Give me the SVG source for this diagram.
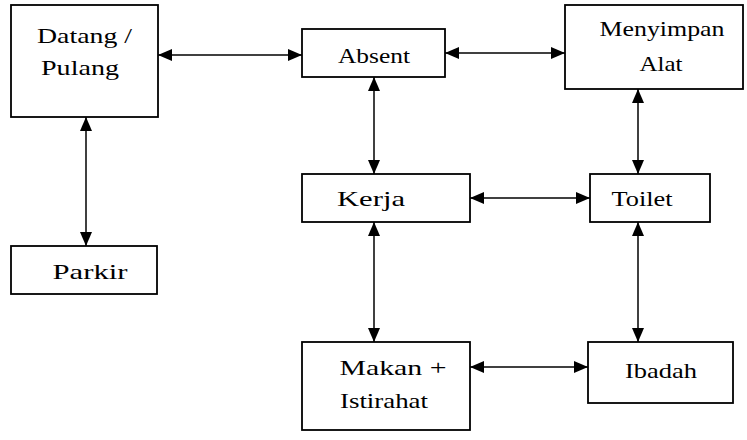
<svg xmlns="http://www.w3.org/2000/svg" width="747" height="440" viewBox="0 0 747 440">
<defs>
<style>
.box{fill:#fff;stroke:#000;stroke-width:1.8}
.t{font-family:"Liberation Serif","Times New Roman",serif;font-size:22px;fill:#000;text-anchor:middle}
.c{stroke:#000;stroke-width:1.5;fill:none;marker-start:url(#a);marker-end:url(#a)}
</style>
<marker id="a" viewBox="0 0 14 12" refX="14" refY="6" markerWidth="14" markerHeight="12" markerUnits="userSpaceOnUse" orient="auto-start-reverse">
<path d="M0,0 L14,6 L0,12 Z" fill="#000"/>
</marker>
</defs>
<rect width="747" height="440" fill="#fff"/>
<g id="connectors">
<line class="c" x1="158" y1="55" x2="302" y2="55"/>
<line class="c" x1="445" y1="53" x2="565" y2="53"/>
<line class="c" x1="86" y1="117" x2="86" y2="246"/>
<line class="c" x1="374" y1="77" x2="374" y2="174"/>
<line class="c" x1="638" y1="89" x2="638" y2="174"/>
<line class="c" x1="470" y1="198" x2="590" y2="198"/>
<line class="c" x1="374" y1="222" x2="374" y2="342"/>
<line class="c" x1="638" y1="222" x2="638" y2="342"/>
<line class="c" x1="470" y1="367" x2="588" y2="367"/>
</g>
<g id="datang">
<rect class="box" x="11" y="5" width="147" height="112"/>
<text class="t" x="84.5" y="43" textLength="95" lengthAdjust="spacingAndGlyphs">Datang /</text>
<text class="t" x="80" y="75" textLength="78" lengthAdjust="spacingAndGlyphs">Pulang</text>
</g>
<g id="absent">
<rect class="box" x="302" y="29" width="143" height="48"/>
<text class="t" x="374" y="63" textLength="72" lengthAdjust="spacingAndGlyphs">Absent</text>
</g>
<g id="menyimpan">
<rect class="box" x="565" y="5" width="178" height="84"/>
<text class="t" x="662" y="36" textLength="125" lengthAdjust="spacingAndGlyphs">Menyimpan</text>
<text class="t" x="661" y="71" textLength="43" lengthAdjust="spacingAndGlyphs">Alat</text>
</g>
<g id="kerja">
<rect class="box" x="302" y="174" width="168" height="48"/>
<text class="t" x="371" y="206" textLength="68" lengthAdjust="spacingAndGlyphs">Kerja</text>
</g>
<g id="toilet">
<rect class="box" x="590" y="174" width="120" height="48"/>
<text class="t" x="642" y="206" textLength="61" lengthAdjust="spacingAndGlyphs">Toilet</text>
</g>
<g id="parkir">
<rect class="box" x="11" y="246" width="146" height="48"/>
<text class="t" x="90" y="279" textLength="75" lengthAdjust="spacingAndGlyphs">Parkir</text>
</g>
<g id="makan">
<rect class="box" x="302" y="342" width="168" height="88"/>
<text class="t" x="393" y="375" textLength="107" lengthAdjust="spacingAndGlyphs">Makan +</text>
<text class="t" x="384" y="408" textLength="88" lengthAdjust="spacingAndGlyphs">Istirahat</text>
</g>
<g id="ibadah">
<rect class="box" x="588" y="342" width="145" height="61"/>
<text class="t" x="661" y="378" textLength="72" lengthAdjust="spacingAndGlyphs">Ibadah</text>
</g>
</svg>
